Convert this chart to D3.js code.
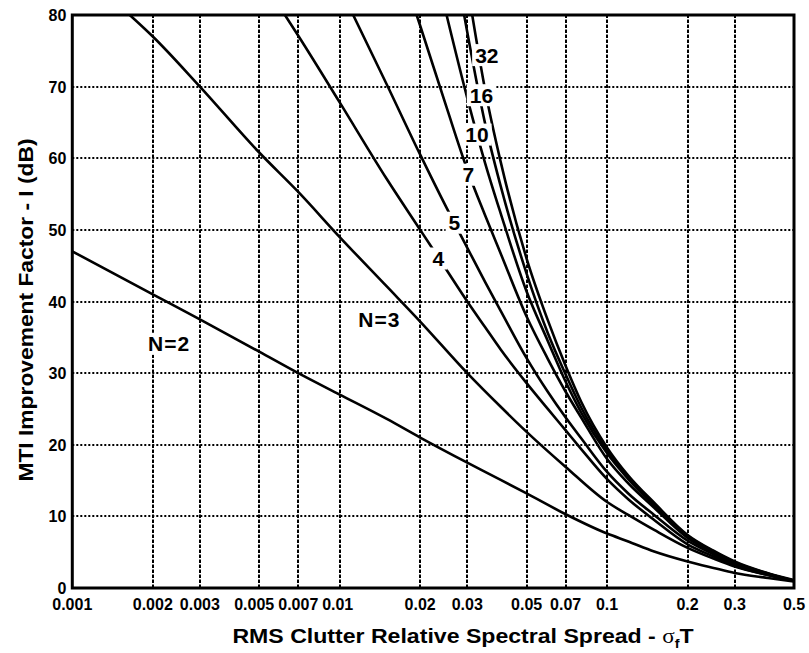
<!DOCTYPE html>
<html>
<head>
<meta charset="utf-8">
<script src="https://cdn.jsdelivr.net/npm/d3@7/dist/d3.min.js"></script>
<style>
body { margin: 0; background: #fff; }
svg { display: block; font-family: "Liberation Sans", Arial, Helvetica, sans-serif; font-weight: bold; }
</style>
</head>
<body>
<div id="viz_mti"></div>
<script>
// axis ticks
const xTicks = [0.001, 0.002, 0.003, 0.005, 0.007, 0.01, 0.02, 0.03, 0.05, 0.07, 0.1, 0.2, 0.3, 0.5];
const xTickLabels = ["0.001", "0.002", "0.003", "0.005", "0.007", "0.01", "0.02", "0.03", "0.05", "0.07", "0.1", "0.2", "0.3", "0.5"];
const yTicks = [0, 10, 20, 30, 40, 50, 60, 70, 80];

// improvement factor (dB), each series starts where it leaves the top edge
const sigmaN2 = [0.001, 0.002, 0.003, 0.005, 0.007, 0.01, 0.015, 0.02, 0.03, 0.04, 0.05, 0.07, 0.1, 0.12, 0.15, 0.2, 0.25, 0.3, 0.4, 0.5];
const dbN2    = [47, 41, 37.5, 33, 30, 27, 23.6, 21, 17.5, 15.1, 13.2, 10.3, 7.6, 6.5, 5.1, 3.7, 2.8, 2.1, 1.4, 0.9];

const sigmaN3 = [0.00164, 0.002, 0.003, 0.005, 0.007, 0.01, 0.015, 0.02, 0.03, 0.04, 0.05, 0.07, 0.1, 0.12, 0.15, 0.2, 0.25, 0.3, 0.4, 0.5];
const dbN3    = [80, 77, 70, 60.8, 55.3, 49, 42.1, 37.2, 30, 25.3, 21.8, 16.9, 12, 10.2, 8.1, 5.6, 4.1, 3.0, 1.8, 1.0];

const sigmaN4 = [0.00624, 0.007, 0.01, 0.015, 0.02, 0.025, 0.03, 0.035, 0.04, 0.05, 0.06, 0.07, 0.08, 0.1, 0.12, 0.15, 0.2, 0.25, 0.3, 0.4, 0.5];
const dbN4    = [80, 77.1, 67.8, 57.1, 50, 44.5, 40, 36.4, 33.3, 28.6, 25.0, 22.0, 19.4, 15.2, 12.4, 9.5, 6.1, 4.4, 3.1, 1.8, 1.0];

const sigmaN5 = [0.01123, 0.015, 0.02, 0.025, 0.03, 0.035, 0.04, 0.05, 0.06, 0.07, 0.08, 0.1, 0.12, 0.15, 0.2, 0.25, 0.3, 0.4, 0.5];
const dbN5    = [80, 70.3, 60.5, 53.2, 47.5, 42.7, 38.7, 32.1, 27.4, 23.8, 20.9, 16.2, 13.2, 10.2, 6.6, 4.7, 3.3, 1.9, 1.0];

const sigmaN7 = [0.0194, 0.02, 0.025, 0.03, 0.035, 0.04, 0.05, 0.06, 0.07, 0.08, 0.1, 0.12, 0.15, 0.2, 0.25, 0.3, 0.4, 0.5];
const dbN7    = [80, 78.5, 67.3, 58.4, 52.0, 46.7, 37.9, 32, 27.4, 23.8, 18, 14.6, 11.2, 7.0, 4.9, 3.4, 1.9, 1.0];

const sigmaN10 = [0.0251, 0.03, 0.035, 0.04, 0.05, 0.06, 0.07, 0.08, 0.1, 0.12, 0.15, 0.2, 0.25, 0.3, 0.4, 0.5];
const dbN10    = [80, 68.4, 59.3, 52.3, 41.4, 34.5, 28.8, 24.5, 18.8, 15.2, 11.5, 7.2, 5.0, 3.5, 2.0, 1.0];

const sigmaN16 = [0.0292, 0.03, 0.035, 0.04, 0.05, 0.06, 0.07, 0.08, 0.1, 0.12, 0.15, 0.2, 0.25, 0.3, 0.4, 0.5];
const dbN16    = [80, 77.6, 64.8, 56.1, 43.9, 35.6, 29.8, 25.2, 19.2, 15.4, 11.7, 7.3, 5.1, 3.6, 2.0, 1.05];

const sigmaN32 = [0.0313, 0.035, 0.04, 0.05, 0.06, 0.07, 0.08, 0.1, 0.12, 0.15, 0.2, 0.25, 0.3, 0.4, 0.5];
const dbN32    = [80, 69.5, 59.5, 46, 37.4, 31, 26, 19.6, 15.7, 11.9, 7.4, 5.2, 3.7, 2.05, 1.1];

// curve labels, anchored in data coordinates
const curveLabels = ["N=2", "N=3", "4", "5", "7", "10", "16", "32"];
const labelSigma  = [0.0023, 0.01407, 0.0234, 0.02685, 0.0303, 0.0326, 0.0339, 0.0355];
const labelDb     = [34.1, 37.5, 46.0, 51.0, 57.7, 63.3, 68.8, 74.4];

const width = 809, height = 653;
const margin = {left: 72.3, right: 15, top: 15, bottom: 65};
// small sideways nudges so crowded tick labels don't touch
const xLabelNudge = [0, 0, 0, -5, 0, -2, 0, 0, 0, 0, 0, 0, 0, 0];

function mtiChart()
{
    var series = [
        [sigmaN2, dbN2], [sigmaN3, dbN3], [sigmaN4, dbN4], [sigmaN5, dbN5],
        [sigmaN7, dbN7], [sigmaN10, dbN10], [sigmaN16, dbN16], [sigmaN32, dbN32]
    ].map(s => s[0].map((v, i) => ({x: v, y: s[1][i]})));

    var x = d3.scaleLog().domain([0.001, 0.5]).range([margin.left, width - margin.right]);
    var y = d3.scaleLinear().domain([0, 80]).range([height - margin.bottom, margin.top]);

    var svg = d3.create("svg").attr("width", width).attr("height", height);

    svg.append("defs").append("clipPath").attr("id", "plotClip")
        .append("rect")
        .attr("x", x(0.001)).attr("y", y(80))
        .attr("width", x(0.5) - x(0.001)).attr("height", y(0) - y(80));

    // grid (snapped to whole pixels so the dots stay dark)
    svg.append("g")
        .selectAll("line")
        .data(yTicks.slice(1, -1))
        .join("line")
        .attr("x1", x(0.001)).attr("x2", x(0.5))
        .attr("y1", d => Math.round(y(d))).attr("y2", d => Math.round(y(d)))
        .attr("stroke", "#000").attr("stroke-width", 2)
        .attr("stroke-dasharray", "2,2");

    svg.append("g")
        .selectAll("line")
        .data(xTicks.slice(1, -1))
        .join("line")
        .attr("x1", d => Math.round(x(d))).attr("x2", d => Math.round(x(d)))
        .attr("y1", y(0)).attr("y2", y(80))
        .attr("stroke", "#000").attr("stroke-width", 2)
        .attr("stroke-dasharray", "3.5,1.5");

    // curves
    var line = d3.line().x(d => x(d.x)).y(d => y(d.y)).curve(d3.curveMonotoneX);
    svg.append("g")
        .attr("clip-path", "url(#plotClip)")
        .selectAll("path")
        .data(series)
        .join("path")
        .attr("d", line)
        .attr("fill", "none")
        .attr("stroke", "#000")
        .attr("stroke-width", 2.6)
        .attr("stroke-linejoin", "round");

    // curve labels on white patches
    var lab = svg.append("g")
        .attr("class", "curve-labels")
        .selectAll("g")
        .data(curveLabels)
        .join("g")
        .attr("transform", (d, i) => `translate(${x(labelSigma[i])},${y(labelDb[i])})`);
    lab.append("rect");
    lab.append("text")
        .attr("text-anchor", "middle")
        .attr("y", 7.5)
        .attr("font-size", 21)
        .attr("letter-spacing", d => d.length > 2 ? 1 : 0)
        .text(d => d);

    // x tick labels
    svg.append("g")
        .selectAll("text")
        .data(xTicks)
        .join("text")
        .attr("x", (d, i) => x(d) + xLabelNudge[i])
        .attr("y", y(0) + 22)
        .attr("text-anchor", "middle")
        .attr("font-size", 16)
        .text((d, i) => xTickLabels[i]);

    // y tick labels
    svg.append("g")
        .selectAll("text")
        .data(yTicks)
        .join("text")
        .attr("x", x(0.001) - 6)
        .attr("y", d => y(d) + 6)
        .attr("text-anchor", "end")
        .attr("font-size", 16)
        .text(d => d);

    // frame
    svg.append("rect")
        .attr("x", x(0.001)).attr("y", y(80))
        .attr("width", x(0.5) - x(0.001)).attr("height", y(0) - y(80))
        .attr("fill", "none").attr("stroke", "#000").attr("stroke-width", 3);

    // axis titles
    var xt = svg.append("text")
        .attr("transform", "translate(463,643) scale(1.1,1)")
        .attr("text-anchor", "middle")
        .attr("font-size", 21);
    xt.append("tspan").text("RMS Clutter Relative Spectral Spread - ");
    xt.append("tspan").attr("font-family", "'Liberation Serif', serif").attr("font-weight", "normal").text("\u03c3");
    xt.append("tspan").attr("font-size", 13).attr("dy", 5).text("f");
    xt.append("tspan").attr("dy", -5).text("T");

    svg.append("text")
        .attr("transform", "translate(33,310) rotate(-90) scale(1.14,1)")
        .attr("text-anchor", "middle")
        .attr("font-size", 20)
        .text("MTI Improvement Factor - I (dB)");

    return svg;
}

var chart = mtiChart();
d3.select("#viz_mti").node().append(chart.node());

// size the white patches behind the curve labels
d3.select("#viz_mti").selectAll(".curve-labels > g").each(function() {
    var t = d3.select(this).select("text").node().getBBox();
    d3.select(this).select("rect")
        .attr("x", t.x - 3).attr("y", -11)
        .attr("width", t.width + 6).attr("height", 22)
        .attr("fill", "#fff");
});
</script>
</body>
</html>
